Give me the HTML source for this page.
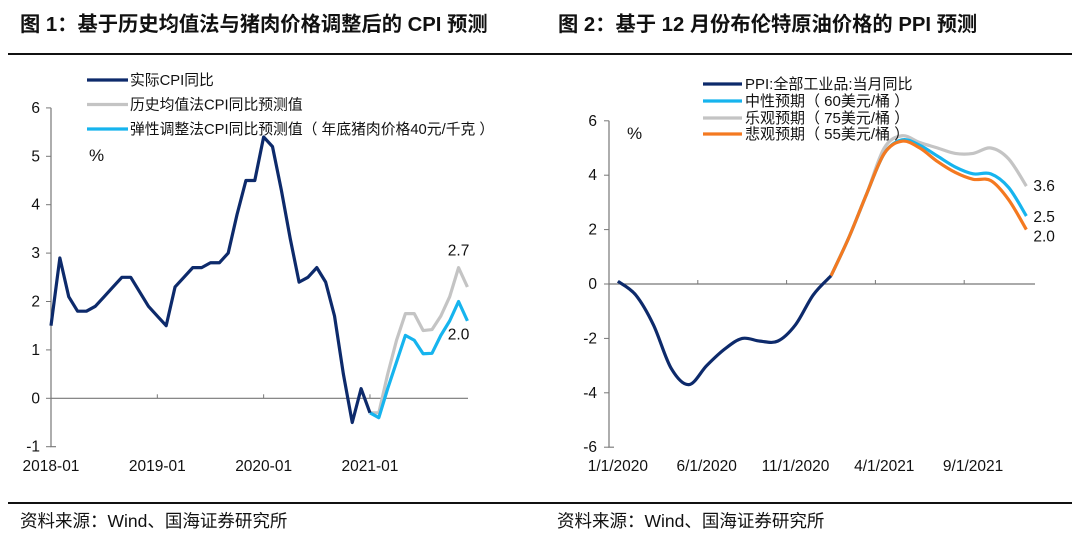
<!DOCTYPE html>
<html><head><meta charset="utf-8"><style>
body{margin:0;background:#fff;width:1080px;height:536px;overflow:hidden}
svg text{font-family:"Liberation Sans","Noto Sans CJK SC",sans-serif}
</style></head><body>
<svg id="s" width="1080" height="536" xmlns="http://www.w3.org/2000/svg">
<text x="20" y="31" font-size="20.3" font-weight="bold" fill="#111">图 1：基于历史均值法与猪肉价格调整后的 CPI 预测</text>
<text x="558" y="31" font-size="20.3" font-weight="bold" fill="#111">图 2：基于 12 月份布伦特原油价格的 PPI 预测</text>
<line x1="8" y1="54" x2="1072" y2="54" stroke="#111" stroke-width="2"/>
<line x1="8" y1="503" x2="1072" y2="503" stroke="#111" stroke-width="2"/>
<text x="20" y="527" font-size="17.5" fill="#111">资料来源：Wind、国海证券研究所</text>
<text x="557" y="527" font-size="17.5" fill="#111">资料来源：Wind、国海证券研究所</text>
<g id="c1"></g>
<g id="c2"></g>
</svg>
<script>
// Chart 1 data
const cpiActual=[1.5,2.9,2.1,1.8,1.8,1.9,2.1,2.3,2.5,2.5,2.2,1.9,1.7,1.5,2.3,2.5,2.7,2.7,2.8,2.8,3.0,3.8,4.5,4.5,5.4,5.2,4.3,3.3,2.4,2.5,2.7,2.4,1.7,0.5,-0.5,0.2,-0.3];
const cpiHist=[-0.3,-0.3,0.5,1.2,1.75,1.75,1.4,1.42,1.7,2.1,2.7,2.3];
const cpiElastic=[-0.3,-0.4,0.2,0.75,1.3,1.2,0.92,0.93,1.3,1.6,2.0,1.6];
const cpiYTicks=[-1,0,1,2,3,4,5,6];
const cpiXLabels=["2018-01","2019-01","2020-01","2021-01"];
// Chart 2 data
const ppiActual=[0.1,-0.4,-1.5,-3.1,-3.7,-3.0,-2.4,-2.0,-2.1,-2.1,-1.5,-0.4,0.3];
const ppiNeutral=[0.3,1.7,3.3,4.8,5.3,5.1,4.7,4.3,4.05,4.05,3.55,2.5];
const ppiOptim=[0.3,1.7,3.3,5.0,5.45,5.2,5.0,4.8,4.8,5.0,4.6,3.6];
const ppiPessim=[0.3,1.7,3.3,4.8,5.25,5.0,4.5,4.1,3.85,3.8,3.1,2.0];
const ppiYTicks=[-6,-4,-2,0,2,4,6];
const ppiXLabels=["1/1/2020","6/1/2020","11/1/2020","4/1/2021","9/1/2021"];

const NS="http://www.w3.org/2000/svg";
function mk(parent,tag,attrs,text){const e=document.createElementNS(NS,tag);for(const k in attrs)e.setAttribute(k,attrs[k]);if(text!==undefined)e.textContent=text;parent.appendChild(e);return e;}
const NAVY="#0d2a6b",GRAY="#c4c4c4",CYAN="#16b4ee",ORANGE="#f47920";

// ---- Chart 1
const g1=document.getElementById('c1');
const x1=i=>51+i*8.86, y1=v=>398.3-v*48.4;
{
 const ax=mk(g1,'path',{d:`M51 ${y1(6)} V${y1(-1)} H56`,stroke:'#777',fill:'none','stroke-width':1.2});
 
 
 cpiYTicks.forEach(t=>{
  const tk=mk(g1,'line',{x1:46,x2:51,y1:y1(t),y2:y1(t),stroke:'#777'});
  
  
  const tl=mk(g1,'text',{x:40,y:y1(t)+5,'text-anchor':'end','font-size':15.5,fill:'#111'},t);
  
  
 });
 const zl=mk(g1,'line',{x1:51,x2:468,y1:y1(0),y2:y1(0),stroke:'#777','stroke-width':1.2});
 
 
 cpiXLabels.forEach((l,k)=>{
  const xx=x1(k*12);
  if(k>0){const tk=mk(g1,'line',{x1:xx,x2:xx,y1:y1(0)-4,y2:y1(0),stroke:'#777'});
   
   }
  const tl=mk(g1,'text',{x:xx,y:471,'text-anchor':'middle','font-size':15.5,fill:'#111'},l);
  
  
 });
 const line=(arr,off,col,name)=>{
  const p=mk(g1,'polyline',{points:arr.map((v,i)=>x1(i+off)+','+y1(v)).join(' '),fill:'none',stroke:col,'stroke-width':3.2,'stroke-linejoin':'round'});
  
  
 };
 line(cpiHist,36,GRAY,'series-historical-mean');
 line(cpiElastic,36,CYAN,'series-elastic-adjust');
 line(cpiActual,0,NAVY,'series-actual-cpi');
 const la=mk(g1,'text',{x:x1(46),y:y1(cpiHist[10])-12,'text-anchor':'middle','font-size':15.5,fill:'#111'},cpiHist[10].toFixed(1));
 
 
 const lb=mk(g1,'text',{x:x1(46),y:y1(cpiElastic[10])+38,'text-anchor':'middle','font-size':15.5,fill:'#111'},cpiElastic[10].toFixed(1));
 
 
 const pc=mk(g1,'text',{x:89,y:161,'font-size':17,fill:'#111'},'%');
 
 
 [["实际CPI同比",NAVY,80],["历史均值法CPI同比预测值",GRAY,104.5],["弹性调整法CPI同比预测值（ 年底猪肉价格40元/千克 ）",CYAN,129]].forEach(([t,c,y])=>{
  const l=mk(g1,'line',{x1:87,x2:128,y1:y,y2:y,stroke:c,'stroke-width':3.2});
  
  
  const tx=mk(g1,'text',{x:130,y:y+5,'font-size':14.8,fill:'#111'},t);
  
  
 });
}

// ---- Chart 2
const g2=document.getElementById('c2');
const x2=i=>609+(i+0.5)*17.76, y2=v=>284-v*27.2;
function smooth(pts){let d=`M${pts[0][0]},${pts[0][1]}`;for(let i=0;i<pts.length-1;i++){const p0=pts[i-1]||pts[i],p1=pts[i],p2=pts[i+1],p3=pts[i+2]||p2;
 d+=` C${p1[0]+(p2[0]-p0[0])/6},${p1[1]+(p2[1]-p0[1])/6} ${p2[0]-(p3[0]-p1[0])/6},${p2[1]-(p3[1]-p1[1])/6} ${p2[0]},${p2[1]}`;}return d;}
{
 const ax=mk(g2,'path',{d:`M609 ${y2(6)} V${y2(-6)} H614`,stroke:'#777',fill:'none','stroke-width':1.2});
 
 
 ppiYTicks.forEach(t=>{
  const tk=mk(g2,'line',{x1:604,x2:609,y1:y2(t),y2:y2(t),stroke:'#777'});
  
  
  const tl=mk(g2,'text',{x:597,y:y2(t)+5,'text-anchor':'end','font-size':15.5,fill:'#111'},t);
  
  
 });
 const zl=mk(g2,'line',{x1:609,x2:1035,y1:y2(0),y2:y2(0),stroke:'#777','stroke-width':1.2});
 
 
 ppiXLabels.forEach((l,k)=>{
  const xt=609+(k+1)*5*17.76;
  if(k<4){const tk=mk(g2,'line',{x1:xt,x2:xt,y1:y2(0)-4,y2:y2(0),stroke:'#777'});
   
   }
  const tl=mk(g2,'text',{x:x2(k*5),y:471,'text-anchor':'middle','font-size':15.5,fill:'#111'},l);
  
  
 });
 const line=(arr,off,col,name)=>{
  const p=mk(g2,'path',{d:smooth(arr.map((v,i)=>[x2(i+off),y2(v)])),fill:'none',stroke:col,'stroke-width':3.2,'stroke-linejoin':'round'});
  
  
 };
 line(ppiOptim,12,GRAY,'series-optimistic');
 line(ppiNeutral,12,CYAN,'series-neutral');
 line(ppiPessim,12,ORANGE,'series-pessimistic');
 line(ppiActual,0,NAVY,'series-actual-ppi');
 [[ppiOptim,0,'label-optimistic-end'],[ppiNeutral,1,'label-neutral-end'],[ppiPessim,7,'label-pessimistic-end']].forEach(([a,dy,n])=>{
  const v=a[a.length-1];
  const t=mk(g2,'text',{x:x2(23)+7,y:y2(v)+5+dy,'font-size':15.5,fill:'#111'},v.toFixed(1));
  
  
 });
 const pc=mk(g2,'text',{x:627,y:139,'font-size':17,fill:'#111'},'%');
 
 
 [["PPI:全部工业品:当月同比",NAVY,84],["中性预期（ 60美元/桶 ）",CYAN,101],["乐观预期（ 75美元/桶 ）",GRAY,118],["悲观预期（ 55美元/桶 ）",ORANGE,134]].forEach(([t,c,y])=>{
  const l=mk(g2,'line',{x1:703,x2:742,y1:y,y2:y,stroke:c,'stroke-width':3.2});
  
  
  const tx=mk(g2,'text',{x:745,y:y+5,'font-size':15,fill:'#111'},t);
  
  
 });
}
</script>
</body></html>
